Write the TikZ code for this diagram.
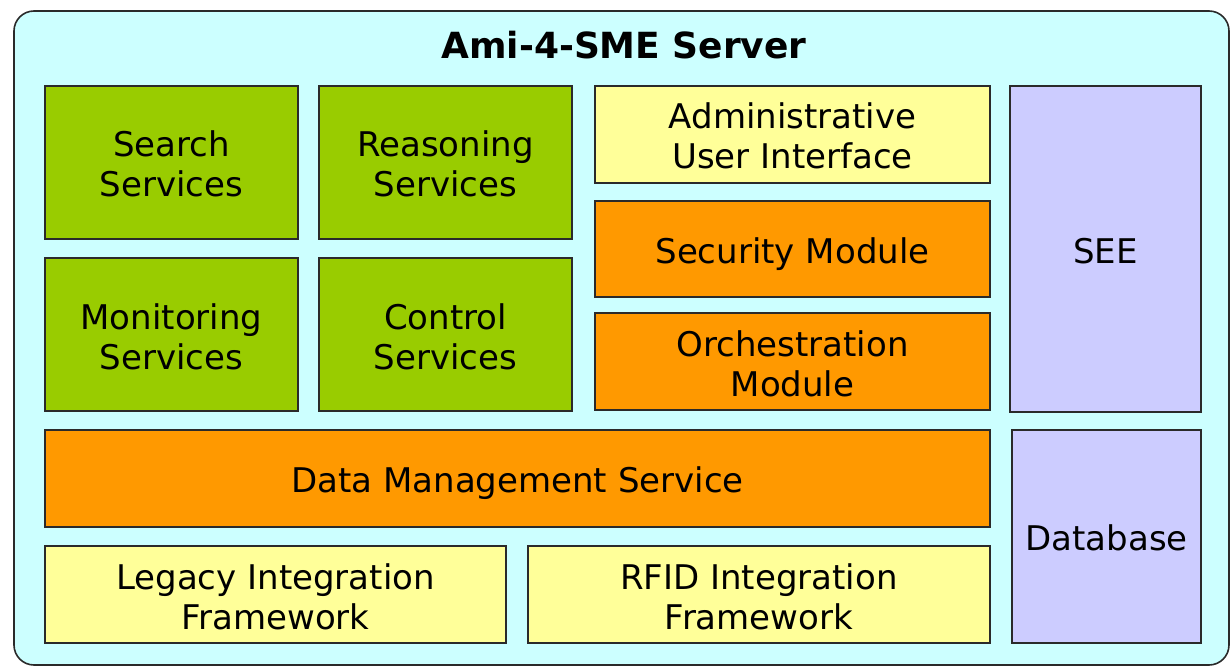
\documentclass[tikz,border=0pt]{standalone}
\usepackage{fontspec}
\setmainfont{DejaVu Sans}
\definecolor{bgc}{HTML}{CCFFFF}
\definecolor{greenc}{HTML}{99CC00}
\definecolor{orangec}{HTML}{FF9900}
\definecolor{yellowc}{HTML}{FFFF99}
\definecolor{lavc}{HTML}{CCCCFF}
\definecolor{edgec}{HTML}{2A2A2A}
\newcommand\lone[1]{\raisebox{-14.4pt}[0pt][0pt]{#1}}
\newcommand\ltwo[2]{\raisebox{5.5pt}[0pt][0pt]{\begin{tabular}[t]{@{}c@{}}#1\\#2\end{tabular}}}
\begin{document}
\begin{tikzpicture}[x=1pt,y=-1pt,
  blk/.style={draw=edgec, line width=1.6pt, inner sep=0pt, align=center,
    font=\fontsize{34}{40}\selectfont},
  greenbox/.style={blk, fill=greenc, minimum width=253pt, minimum height=153pt},
  modbox/.style={blk, minimum width=395pt, minimum height=97pt},
  lavbox/.style={blk, fill=lavc}]
\useasboundingbox (0,0) rectangle (1231,668);
\draw[fill=bgc, draw=edgec, line width=1.6pt, rounded corners=20pt] (14,11) rectangle (1229,665);
\node[font=\bfseries\fontsize{36}{40}\selectfont, anchor=base] (title) at (624,59) {Ami-4-SME Server};
\node[greenbox] (search) at (171.5,162.5) {\ltwo{Search}{Services}};
\node[greenbox] (reason) at (445.5,162.5) {\ltwo{Reasoning}{Services}};
\node[greenbox] (monitor) at (171.5,334.5) {\ltwo{Monitoring}{Services}};
\node[greenbox] (control) at (445.5,334.5) {\ltwo{Control}{Services}};
\node[modbox, fill=yellowc] (admin) at (792.5,134.5) {\ltwo{Administrative}{User Interface}};
\node[modbox, fill=orangec, minimum height=96pt] (security) at (792.5,249) {\lone{Security Module}};
\node[modbox, fill=orangec] (orch) at (792.5,361.5) {\ltwo{Orchestration}{Module}};
\node[lavbox, minimum width=191pt, minimum height=326pt] (see) at (1105.5,249) {\lone{SEE}};
\node[blk, fill=orangec, minimum width=945pt, minimum height=97pt] (data) at (517.5,478.5) {\lone{Data Management Service}};
\node[lavbox, minimum width=189pt, minimum height=213pt] (database) at (1106.5,536.5) {\lone{Database}};
\node[blk, fill=yellowc, minimum width=461pt, minimum height=97pt] (legacy) at (275.5,594.5) {\ltwo{Legacy Integration}{Framework}};
\node[blk, fill=yellowc, minimum width=462pt, minimum height=97pt] (rfid) at (759,594.5) {\ltwo{RFID Integration}{Framework}};
\end{tikzpicture}
\end{document}
